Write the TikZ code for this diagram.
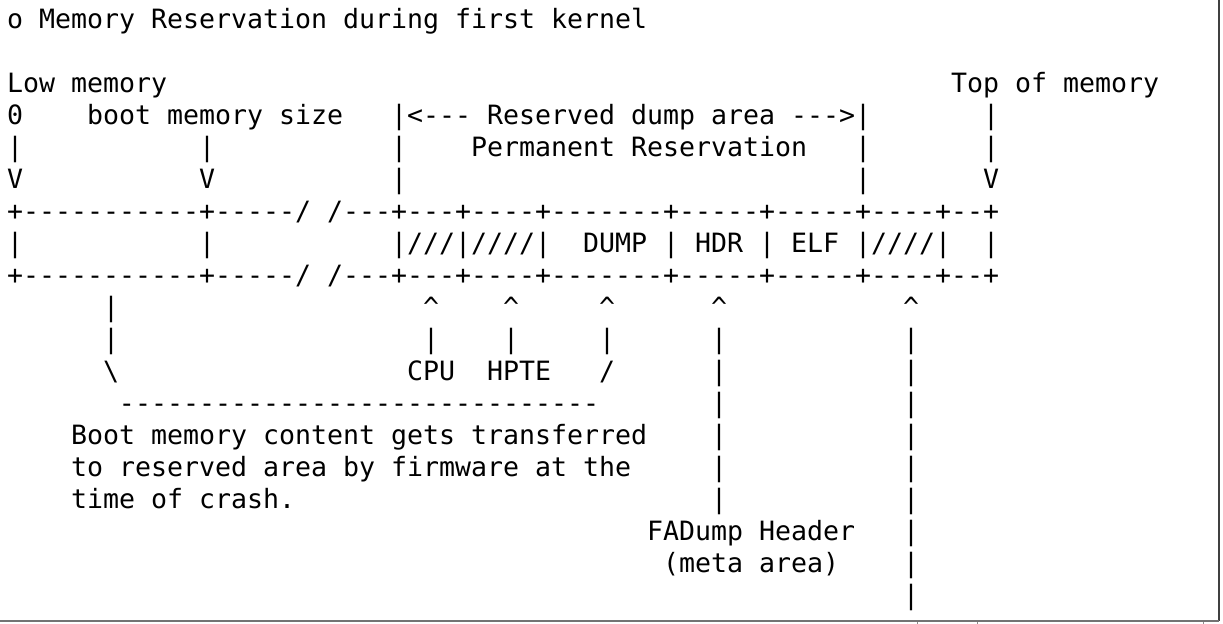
\documentclass[tikz,border=0pt]{standalone}
\usepackage{fontspec}
\setmonofont{DejaVu Sans Mono}
\usepackage{tikz}

\tikzset{
  txt/.style={anchor=base west, inner sep=0pt, outer sep=0pt,
    font=\ttfamily\fontsize{13.29pt}{16pt}\selectfont},
}

\begin{document}
\begin{tikzpicture}[x=8pt, y=-16pt]
\useasboundingbox (-0.4375,-0.890625) rectangle (76,18.609375);

% 标题
\node[txt] (title) at (0,0) {o Memory Reservation during first kernel};

% 内存两端
\node[txt] (lowmem) at (0,2) {Low memory};
\node[txt] (topmem) at (59,2) {Top of memory};
\node[txt] (zero) at (0,3) {0};
\node[txt] (bootsz) at (5,3) {boot memory size};
\node[txt] (resv) at (24,3) {|<--- Reserved dump area --->|};
\node[txt] (topbar1) at (61,3) {|};
\node[txt] (lowbar) at (0,4) {|};
\node[txt] (bootbar) at (12,4) {|};
\node[txt] (resvbar1) at (24,4) {|};
\node[txt] (perm) at (29,4) {Permanent Reservation};
\node[txt] (resvbar2) at (53,4) {|};
\node[txt] (topbar2) at (61,4) {|};
\node[txt] (lowv) at (0,5) {V};
\node[txt] (bootv) at (12,5) {V};
\node[txt] (resvbar3) at (24,5) {|};
\node[txt] (resvbar4) at (53,5) {|};
\node[txt] (topv) at (61,5) {V};

% 内存条
\node[txt] (boxtop) at (0,6) {+-----------+-----/ /---+---+----+-------+-----+-----+----+--+};
\node[txt] (boxl) at (0,7) {|};
\node[txt] (boxm) at (12,7) {|};
\node[txt] (boxcpu) at (24,7) {|///|////|};
\node[txt] (boxdump) at (36,7) {DUMP | HDR | ELF |////|};
\node[txt] (boxr) at (61,7) {|};
\node[txt] (boxbot) at (0,8) {+-----------+-----/ /---+---+----+-------+-----+-----+----+--+};

% 箭头
\node[txt] (copybar1) at (6,9) {|};
\node[txt] (cpuup) at (26,9) {\textasciicircum};
\node[txt] (hpteup) at (31,9) {\textasciicircum};
\node[txt] (dumpup) at (37,9) {\textasciicircum};
\node[txt] (hdrup) at (44,9) {\textasciicircum};
\node[txt] (metaup) at (56,9) {\textasciicircum};
\node[txt] (copybar2) at (6,10) {|};
\node[txt] (cpubar) at (26,10) {|};
\node[txt] (hptebar) at (31,10) {|};
\node[txt] (dumpbar) at (37,10) {|};
\node[txt] (hdrbar1) at (44,10) {|};
\node[txt] (metabar1) at (56,10) {|};
\node[txt] (copyl) at (6,11) {\textbackslash};
\node[txt] (cpu) at (25,11) {CPU};
\node[txt] (hpte) at (30,11) {HPTE};
\node[txt] (copyr) at (37,11) {/};
\node[txt] (hdrbar2) at (44,11) {|};
\node[txt] (metabar2) at (56,11) {|};
\node[txt] (copyline) at (7,12) {------------------------------};
\node[txt] (hdrbar3) at (44,12) {|};
\node[txt] (metabar3) at (56,12) {|};

% 说明
\node[txt] (note1) at (4,13) {Boot memory content gets transferred};
\node[txt] (hdrbar4) at (44,13) {|};
\node[txt] (metabar4) at (56,13) {|};
\node[txt] (note2) at (4,14) {to reserved area by firmware at the};
\node[txt] (hdrbar5) at (44,14) {|};
\node[txt] (metabar5) at (56,14) {|};
\node[txt] (note3) at (4,15) {time of crash.};
\node[txt] (hdrbar6) at (44,15) {|};
\node[txt] (metabar6) at (56,15) {|};
\node[txt] (fadump) at (40,16) {FADump Header};
\node[txt] (metabar7) at (56,16) {|};
\node[txt] (metaarea) at (41,17) {(meta area)};
\node[txt] (metabar8) at (56,17) {|};
\node[txt] (metabar9) at (56,18) {|};

% 边框
\draw[black!75, line width=0.8pt] (75.75,-0.890625) -- (75.75,18.516);
\draw[black!55, line width=0.9pt] (-0.4375,18.516) -- (75.75,18.516);
\draw[black!45, line width=0.5pt] (56.875,18.55) -- (56.875,18.609375);
\draw[black!45, line width=0.5pt] (60.625,18.55) -- (60.625,18.609375);
\draw[black!45, line width=0.5pt] (74.75,18.55) -- (74.75,18.609375);
\end{tikzpicture}
\end{document}
